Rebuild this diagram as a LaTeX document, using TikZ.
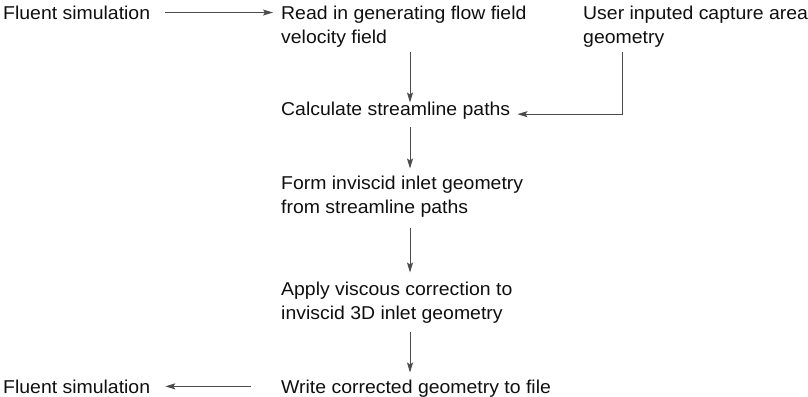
\documentclass[tikz,border=0pt]{standalone}
\usepackage{fontspec}
\setmainfont{Liberation Sans}[FakeStretch=1.045]
\usetikzlibrary{arrows.meta,positioning}
\definecolor{inkgray}{RGB}{15,15,15}
\definecolor{linegray}{RGB}{75,75,75}

\begin{document}
\begin{tikzpicture}[
    x=1pt, y=-1pt,
    step text/.style={inner sep=0pt, anchor=north west, align=left, font=\fontsize{18.6}{24}\selectfont, text=inkgray},
    arrow/.style={-{Stealth[length=10pt,width=6pt,inset=2pt]}, draw=linegray, line width=0.9pt}
]
\useasboundingbox (0,0) rectangle (808,396);

% top row
\node[step text] (fluentin) at (3,5.5) {Fluent simulation};
\node[step text] (read) at (281,5.5) {Read in generating flow field\\velocity field};
\node[step text] (capture) at (583,5.5) {User inputed capture area\\geometry};

% main column
\node[step text] (calcpath) at (281,101.5) {Calculate streamline paths};
\node[step text] (form) at (281,175.5) {Form inviscid inlet geometry\\from streamline paths};
\node[step text] (viscous) at (281,281.5) {Apply viscous correction to\\inviscid 3D inlet geometry};
\node[step text] (write) at (281,379.5) {Write corrected geometry to file};
\node[step text] (fluentout) at (3,379.5) {Fluent simulation};

\coordinate (spine) at (410,0);

\draw[arrow, shorten <=15pt, shorten >=8pt] (fluentin.east) -- (read.west |- fluentin.east);
\draw[arrow, shorten <=5pt, shorten >=-1pt] (read.south -| spine) -- (calcpath.north -| spine);
\draw[arrow, shorten <=5pt, shorten >=7pt] ([xshift=39pt]capture.south west) |- ([yshift=1pt]calcpath.base east);
\draw[arrow, shorten <=8pt, shorten >=7pt] (calcpath.south -| spine) -- (form.north -| spine);
\draw[arrow, shorten <=11pt, shorten >=9pt] (form.south -| spine) -- (viscous.north -| spine);
\draw[arrow, shorten <=9pt, shorten >=7pt] (viscous.south -| spine) -- (write.north -| spine);
\draw[arrow, shorten <=30pt, shorten >=15pt] ([yshift=2pt]write.west) -- ([yshift=2pt]fluentout.east |- write.west);

\end{tikzpicture}
\end{document}
